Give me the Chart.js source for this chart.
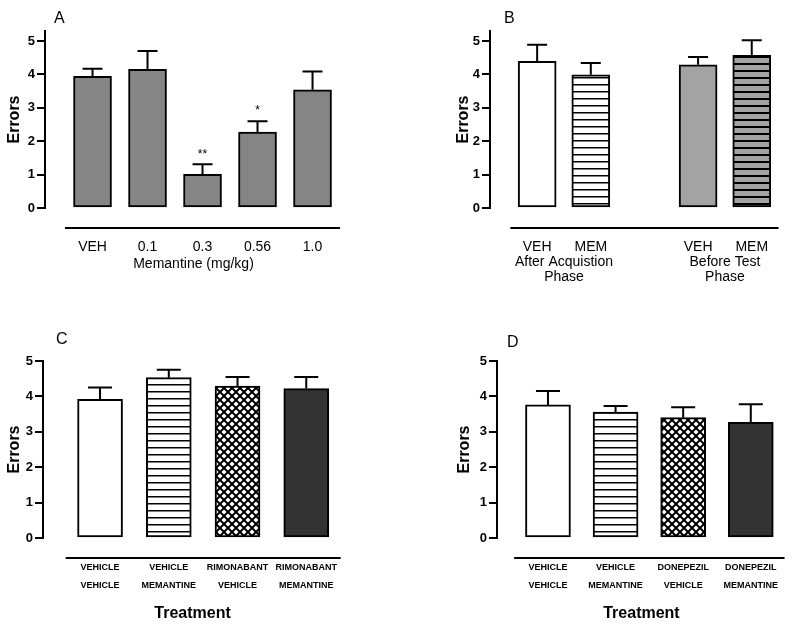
<!DOCTYPE html>
<html>
<head>
<meta charset="utf-8">
<script src="https://cdn.jsdelivr.net/npm/chart.js@4.4.1/dist/chart.umd.min.js"></script>
<style>
  body { margin: 0; background: #fff; width: 800px; height: 627px; position: relative; overflow: hidden;
         font-family: "Liberation Sans", Arial, sans-serif; }
  canvas { position: absolute; }
  .tag { position: absolute; font-size: 16px; line-height: 16px; color: #000; }
</style>
</head>
<body>
<canvas id="chartA" width="400" height="300" style="left:0;top:0"></canvas>
<canvas id="chartB" width="400" height="300" style="left:400px;top:0"></canvas>
<canvas id="chartC" width="400" height="327" style="left:0;top:300px"></canvas>
<canvas id="chartD" width="400" height="327" style="left:400px;top:300px"></canvas>
<div class="tag" style="left:54px;top:10px">A</div>
<div class="tag" style="left:504px;top:10px">B</div>
<div class="tag" style="left:56px;top:331px">C</div>
<div class="tag" style="left:507px;top:334px">D</div>
<script>
const F = "'Liberation Sans', Arial, sans-serif";
const yTicks = [0, 1, 2, 3, 4, 5];

// Panel A - memantine dose
const catsA = ['VEH', '0.1', '0.3', '0.56', '1.0'];
const meanA = [3.94, 4.15, 1.01, 2.27, 3.54];
const semA = [0.23, 0.55, 0.30, 0.33, 0.55];
const starsA = ['', '', '**', '*', ''];

// Panel B - timing (slot 2 is the gap between groups)
const catsB = ['VEH', 'MEM', 'VEH', 'MEM'];
const slotB = [0, 1, 3, 4];
const meanB = [4.39, 3.99, 4.29, 4.57];
const semB = [0.50, 0.35, 0.23, 0.45];
const groupsB = [['After Acquistion', 'Phase'], ['Before Test', 'Phase']];
const groupSlotB = [0.5, 3.5];

// Panel C - rimonabant
const catsC = [['VEHICLE', 'VEHICLE'], ['VEHICLE', 'MEMANTINE'], ['RIMONABANT', 'VEHICLE'], ['RIMONABANT', 'MEMANTINE']];
const meanC = [3.92, 4.53, 4.29, 4.22];
const semC = [0.33, 0.22, 0.26, 0.33];

// Panel D - donepezil
const catsD = [['VEHICLE', 'VEHICLE'], ['VEHICLE', 'MEMANTINE'], ['DONEPEZIL', 'VEHICLE'], ['DONEPEZIL', 'MEMANTINE']];
const meanD = [3.76, 3.56, 3.40, 3.27];
const semD = [0.39, 0.17, 0.29, 0.51];

// fill patterns
function stripes(bg, lw) {
  const c = document.createElement('canvas');
  c.width = 8; c.height = 7;
  const g = c.getContext('2d');
  g.fillStyle = bg; g.fillRect(0, 0, 8, 7);
  g.fillStyle = '#000'; g.fillRect(0, 0, 8, lw);
  return g.createPattern(c, 'repeat');
}
function hatch() {
  const c = document.createElement('canvas');
  c.width = 8; c.height = 8;
  const g = c.getContext('2d');
  g.fillStyle = '#fff'; g.fillRect(0, 0, 8, 8);
  g.strokeStyle = '#000'; g.lineWidth = 2;
  g.beginPath();
  g.moveTo(-1, -1); g.lineTo(9, 9);
  g.moveTo(9, -1); g.lineTo(-1, 9);
  g.stroke();
  return g.createPattern(c, 'repeat');
}

// error bars, stars and the detached baseline under the categories
function extras(o) {
  return {
    id: 'extras',
    afterDatasetsDraw(chart) {
      const { ctx, chartArea, scales: { x, y } } = chart;
      const bars = chart.getDatasetMeta(0).data;
      ctx.save();
      ctx.strokeStyle = '#000';
      ctx.lineWidth = 2;
      bars.forEach((bar, i) => {
        const top = y.getPixelForValue(o.means[i] + o.errs[i]);
        ctx.beginPath();
        ctx.moveTo(bar.x, bar.y);
        ctx.lineTo(bar.x, top);
        ctx.moveTo(bar.x - o.cap, top);
        ctx.lineTo(bar.x + o.cap, top);
        ctx.stroke();
        if (o.stars && o.stars[i]) {
          ctx.fillStyle = '#000';
          ctx.font = '12px ' + F;
          ctx.textAlign = 'center';
          ctx.textBaseline = 'middle';
          ctx.fillText(o.stars[i], bar.x, top - 10);
        }
      });
      const ly = chartArea.bottom + 20;
      ctx.beginPath();
      ctx.moveTo(x.getPixelForValue(o.lineFrom), ly);
      ctx.lineTo(x.getPixelForValue(o.lineTo), ly);
      ctx.stroke();
      ctx.restore();
    }
  };
}

function panel(id, o) {
  new Chart(document.getElementById(id), {
    type: 'bar',
    data: {
      datasets: [{
        data: o.slots.map((s, i) => ({ x: s, y: o.means[i] })),
        backgroundColor: o.fills,
        borderColor: '#000',
        borderWidth: 2,
        borderSkipped: false,
        barThickness: o.barW
      }]
    },
    options: {
      responsive: false,
      animation: false,
      layout: { padding: o.pad },
      plugins: { legend: { display: false }, tooltip: { enabled: false } },
      scales: {
        x: {
          type: 'linear',
          offset: false,
          min: o.xMin,
          max: o.xMax,
          grid: { display: false, offset: false, drawTicks: false, tickLength: 0 },
          border: { display: false },
          afterBuildTicks: s => { s.ticks = o.xTicks.map(v => ({ value: v })); },
          afterFit: s => { s.height = o.xH; },
          ticks: {
            autoSkip: false, maxRotation: 0, minRotation: 0,
            padding: o.xPad, color: '#000', font: o.xFont,
            callback: v => o.xLabel(v)
          },
          title: o.xTitle
        },
        y: {
          min: 0,
          max: o.yMax,
          afterBuildTicks: s => { s.ticks = yTicks.map(v => ({ value: v })); },
          afterFit: s => { s.width = o.yW; },
          grid: { display: true, drawOnChartArea: false, drawTicks: true, tickLength: 8, color: '#000', lineWidth: 2 },
          border: { display: true, color: '#000', width: 2 },
          ticks: { color: '#000', padding: 2, font: { family: F, size: 13, weight: 'bold' } },
          title: { display: true, text: 'Errors', color: '#000', padding: 0,
                   font: { family: F, size: 16, weight: 'bold' } }
        }
      }
    },
    plugins: [extras(o)]
  });
}

const smallFont = { family: F, size: 9, weight: 'bold', lineHeight: 2 };
const treatTitle = { display: true, text: 'Treatment', color: '#000', padding: 0,
                     font: { family: F, size: 16, weight: 'bold' } };

panel('chartA', {
  slots: catsA.map((c, i) => i), means: meanA, errs: semA, stars: starsA,
  fills: ['#858585', '#858585', '#858585', '#858585', '#858585'],
  barW: 38, cap: 10,
  pad: { left: 5, right: 58, top: 31, bottom: 27 },
  yW: 40, yMax: 5.3,
  xMin: -0.864, xMax: 4.536, xTicks: [0, 1, 2, 3, 4], xH: 65, xPad: 31,
  xFont: { family: F, size: 14 },
  xLabel: v => catsA[v],
  xTitle: { display: true, text: 'Memantine (mg/kg)', color: '#000', padding: 0, font: { family: F, size: 14 } },
  lineFrom: -0.5, lineTo: 4.5
});

panel('chartB', {
  slots: slotB, means: meanB, errs: semB,
  fills: ['#ffffff', stripes('#ffffff', 1.5), '#a3a3a3', stripes('#a3a3a3', 2)],
  barW: 38, cap: 10,
  pad: { left: 54, right: 10, top: 31, bottom: 7 },
  yW: 36, yMax: 5.3,
  xMin: -0.879, xMax: 4.5, xTicks: [0, 0.5, 1, 3, 3.5, 4], xH: 85, xPad: 31,
  xFont: { family: F, size: 14, lineHeight: 1.1 },
  xLabel: v => {
    const k = slotB.indexOf(v);
    if (k >= 0) return catsB[k];
    return [''].concat(groupsB[groupSlotB.indexOf(v)]);
  },
  xTitle: { display: false },
  lineFrom: -0.5, lineTo: 4.5
});

panel('chartC', {
  slots: catsC.map((c, i) => i), means: meanC, errs: semC,
  fills: ['#ffffff', stripes('#ffffff', 1.5), hatch(), '#333333'],
  barW: 45, cap: 12,
  pad: { left: 5, right: 58, top: 61, bottom: 4 },
  yW: 38, yMax: 5,
  xMin: -0.83, xMax: 3.52, xTicks: [0, 1, 2, 3], xH: 85, xPad: 21,
  xFont: smallFont,
  xLabel: v => catsC[v],
  xTitle: treatTitle,
  lineFrom: -0.5, lineTo: 3.5
});

panel('chartD', {
  slots: catsD.map((c, i) => i), means: meanD, errs: semD,
  fills: ['#ffffff', stripes('#ffffff', 1.5), hatch(), '#333333'],
  barW: 45, cap: 12,
  pad: { left: 55, right: 8, top: 61, bottom: 4 },
  yW: 42, yMax: 5,
  xMin: -0.754, xMax: 3.52, xTicks: [0, 1, 2, 3], xH: 85, xPad: 21,
  xFont: smallFont,
  xLabel: v => catsD[v],
  xTitle: treatTitle,
  lineFrom: -0.5, lineTo: 3.5
});
</script>
</body>
</html>
